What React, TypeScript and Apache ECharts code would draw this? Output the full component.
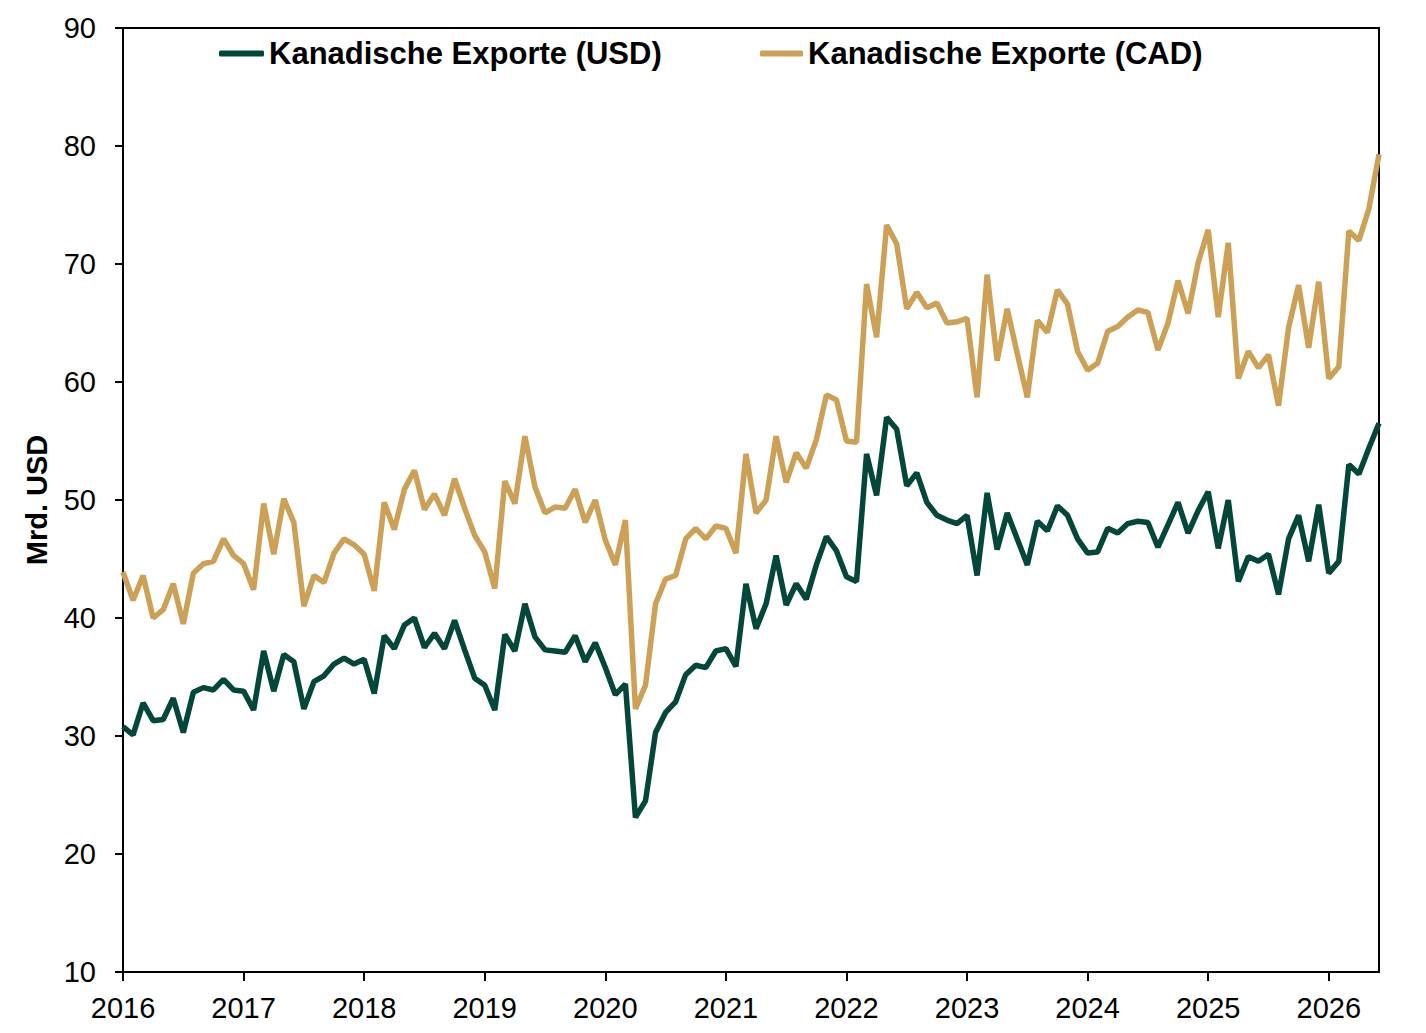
import React, { useEffect, useRef } from "react";
import * as echarts from "echarts";

const startYear = 2016;
const monthCount = 126;
const categories: string[] = [];
for (let i = 0; i < monthCount; i++) {
  const y = startYear + Math.floor(i / 12);
  const m = (i % 12) + 1;
  categories.push(`${y}-${m < 10 ? "0" + m : m}`);
}

const seriesNames = ["Kanadische Exporte (USD)", "Kanadische Exporte (CAD)"];

const usdValues = [
  30.8, 30.1, 32.8, 31.3, 31.4, 33.2, 30.3, 33.7, 34.1, 33.9, 34.8, 33.9,
  33.8, 32.2, 37.2, 33.8, 36.9, 36.3, 32.3, 34.6, 35.1, 36.1, 36.6, 36.1,
  36.5, 33.6, 38.5, 37.4, 39.4, 40.0, 37.5, 38.7, 37.4, 39.8, 37.3, 34.9,
  34.3, 32.2, 38.6, 37.2, 41.2, 38.4, 37.3, 37.2, 37.1, 38.5, 36.3, 37.9,
  35.8, 33.5, 34.4, 23.1, 24.5, 30.3, 32.0, 32.9, 35.2, 36.0, 35.8, 37.2,
  37.4, 35.9, 42.9, 39.1, 41.2, 45.3, 41.1, 42.9, 41.6, 44.5, 46.9, 45.7,
  43.5, 43.1, 53.9, 50.4, 57.0, 56.0, 51.2, 52.3, 49.8, 48.7, 48.3, 48.0,
  48.7, 43.6, 50.6, 45.8, 48.9, 46.7, 44.5, 48.2, 47.4, 49.5, 48.7, 46.7,
  45.5, 45.6, 47.6, 47.2, 48.0, 48.2, 48.1, 46.0, 47.9, 49.8, 47.2, 49.1,
  50.7, 45.9, 50.0, 43.1, 45.2, 44.8, 45.4, 42.0, 46.7, 48.7, 44.8, 49.6,
  43.8, 44.8, 53.0, 52.2, 54.4, 56.5,
];

const cadValues = [
  43.9, 41.5, 43.6, 40.0, 40.7, 42.9, 39.5, 43.8, 44.6, 44.8, 46.7, 45.3,
  44.6, 42.4, 49.7, 45.4, 50.1, 48.1, 41.0, 43.6, 43.0, 45.5, 46.7, 46.2,
  45.4, 42.3, 49.8, 47.5, 50.9, 52.5, 49.2, 50.5, 48.7, 51.8, 49.3, 47.0,
  45.6, 42.5, 51.6, 49.7, 55.4, 51.1, 48.9, 49.4, 49.3, 50.9, 48.1, 50.0,
  46.6, 44.5, 48.3, 32.3, 34.3, 41.2, 43.3, 43.6, 46.7, 47.6, 46.7, 47.8,
  47.6, 45.5, 53.9, 48.9, 50.0, 55.4, 51.5, 54.0, 52.7, 55.1, 58.9, 58.5,
  55.0, 54.9, 68.3, 63.8, 73.3, 71.7, 66.2, 67.6, 66.3, 66.7, 65.0, 65.1,
  65.4, 58.7, 69.1, 61.8, 66.2, 62.4, 58.7, 65.2, 64.2, 67.8, 66.6, 62.6,
  61.0, 61.6, 64.3, 64.7, 65.5, 66.1, 65.9, 62.7, 65.0, 68.6, 65.8, 70.1,
  72.9, 65.5, 71.8, 60.3, 62.6, 61.2, 62.3, 58.0, 64.6, 68.2, 62.9, 68.5,
  60.3, 61.3, 72.8, 72.0, 74.7, 79.3,
];

const yMin = 10;
const yMax = 90;
const yInterval = 10;

const GREEN = "#03463A";
const GOLD = "#CDA155";
const FONT = "'Liberation Sans', Arial, sans-serif";

export default function App() {
  const ref = useRef<HTMLDivElement>(null);

  useEffect(() => {
    document.body.style.margin = "0";
    if (!ref.current) return;
    const chart = echarts.init(ref.current, undefined, { renderer: "svg" });
    const legendText = {
      fontFamily: FONT,
      fontSize: 31,
      fontWeight: "bold" as const,
      color: "#000",
    };
    chart.setOption({
      animation: false,
      backgroundColor: "#fff",
      grid: {
        left: 123,
        right: 47,
        top: 28,
        bottom: 61,
        show: true,
        borderColor: "#000",
        borderWidth: 2,
        backgroundColor: "transparent",
      },
      legend: [
        {
          data: [seriesNames[0]],
          left: 214,
          top: 33,
          icon: "roundRect",
          itemWidth: 45,
          itemHeight: 6,
          itemGap: 4,
          textStyle: legendText,
          selectedMode: false,
        },
        {
          data: [seriesNames[1]],
          left: 755,
          top: 33,
          icon: "roundRect",
          itemWidth: 43,
          itemHeight: 6,
          itemGap: 4,
          textStyle: legendText,
          selectedMode: false,
        },
      ],
      xAxis: {
        type: "category",
        data: categories,
        boundaryGap: false,
        axisLine: { show: true, lineStyle: { color: "#000", width: 2 } },
        axisTick: {
          show: true,
          interval: 11,
          length: 9,
          inside: false,
          lineStyle: { color: "#000", width: 2 },
        },
        axisLabel: {
          interval: 11,
          margin: 21,
          fontFamily: FONT,
          fontSize: 29,
          color: "#000",
          formatter: (v: string) => v.slice(0, 4),
        },
        splitLine: { show: false },
      },
      yAxis: {
        type: "value",
        min: yMin,
        max: yMax,
        interval: yInterval,
        name: "Mrd. USD",
        nameLocation: "middle",
        nameGap: 72,
        nameTextStyle: {
          fontFamily: FONT,
          fontSize: 29,
          fontWeight: "bold",
          color: "#000",
        },
        axisLine: { show: true, lineStyle: { color: "#000", width: 2 } },
        axisTick: {
          show: true,
          length: 8,
          inside: false,
          lineStyle: { color: "#000", width: 2 },
        },
        axisLabel: {
          margin: 27,
          fontFamily: FONT,
          fontSize: 29,
          color: "#000",
        },
        splitLine: { show: false },
      },
      series: [
        {
          name: seriesNames[0],
          type: "line",
          data: usdValues,
          showSymbol: false,
          symbol: "none",
          lineStyle: { color: GREEN, width: 5.5 },
          itemStyle: { color: GREEN },
          z: 3,
        },
        {
          name: seriesNames[1],
          type: "line",
          data: cadValues,
          showSymbol: false,
          symbol: "none",
          lineStyle: { color: GOLD, width: 5.5 },
          itemStyle: { color: GOLD },
          z: 2,
        },
      ],
    });
    return () => chart.dispose();
  }, []);

  return <div ref={ref} style={{ width: 1426, height: 1033 }} />;
}
